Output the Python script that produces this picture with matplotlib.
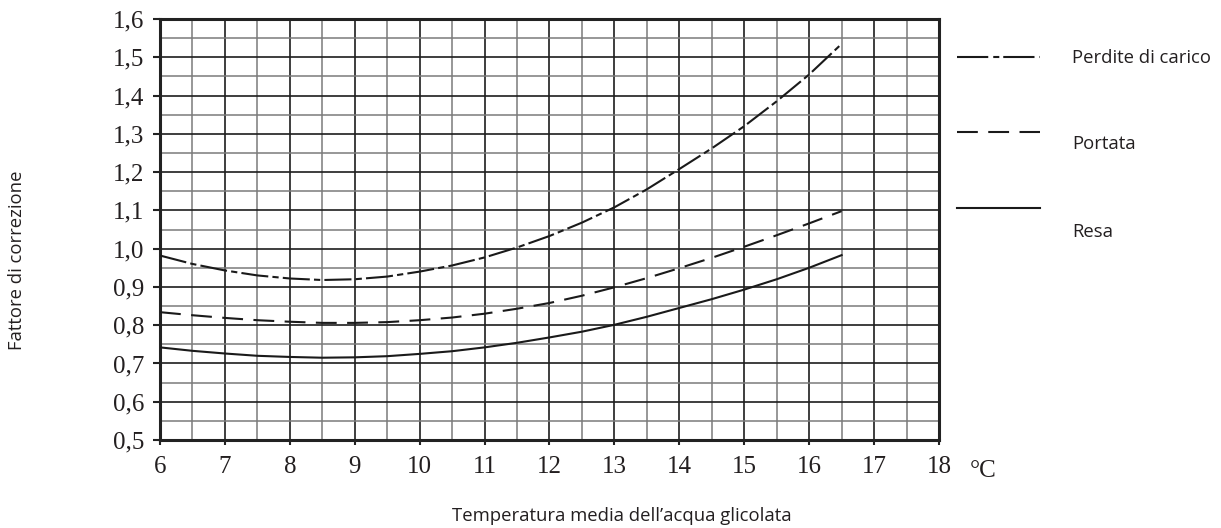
import matplotlib
matplotlib.use("Agg")
import matplotlib.pyplot as plt
from matplotlib.lines import Line2D
import numpy as np

temps = [6, 6.5, 7, 7.5, 8, 8.5, 9, 9.5, 10, 10.5, 11, 11.5, 12, 12.5, 13, 13.5, 14, 14.5, 15, 15.5, 16, 16.5]
perdite = [0.982, 0.960, 0.943, 0.930, 0.922, 0.918, 0.920, 0.927, 0.940, 0.956, 0.977, 1.003, 1.033, 1.068,
           1.108, 1.155, 1.208, 1.262, 1.320, 1.385, 1.455, 1.535]
portata = [0.834, 0.826, 0.819, 0.813, 0.809, 0.806, 0.806, 0.808, 0.813, 0.820, 0.830, 0.843, 0.858, 0.877,
           0.899, 0.923, 0.949, 0.976, 1.005, 1.035, 1.066, 1.098]
resa = [0.742, 0.733, 0.726, 0.720, 0.717, 0.715, 0.716, 0.719, 0.725, 0.732, 0.742, 0.754, 0.768, 0.783,
        0.801, 0.822, 0.845, 0.868, 0.893, 0.920, 0.950, 0.983]

series_names = ["Perdite di carico", "Portata", "Resa"]
x_ticks = [6, 7, 8, 9, 10, 11, 12, 13, 14, 15, 16, 17, 18]
y_ticks = [0.5, 0.6, 0.7, 0.8, 0.9, 1.0, 1.1, 1.2, 1.3, 1.4, 1.5, 1.6]
y_labels = ["0,5", "0,6", "0,7", "0,8", "0,9", "1,0", "1,1", "1,2", "1,3", "1,4", "1,5", "1,6"]
x_label = "Temperatura media dell\u2019acqua glicolata"
y_label = "Fattore di correzione"
unit = "\u00b0C"

W, H = 1221, 528
fig = plt.figure(figsize=(W / 100, H / 100), dpi=100)
ax = fig.add_axes([160 / W, 1 - 440 / H, (939 - 160) / W, (440 - 19) / H])

ax.set_xlim(6, 18)
ax.set_ylim(0.5, 1.6)

txt = "#231f20"
serif = ["Liberation Serif", "DejaVu Serif"]
sans = ["Open Sans", "DejaVu Sans"]
sans_size = 13.3

# grid
ax.set_xticks(np.arange(6, 18.01, 0.5), minor=True)
ax.set_yticks(np.arange(0.5, 1.601, 0.05), minor=True)
ax.set_xticks(x_ticks)
ax.set_yticks(y_ticks)
ax.grid(which="minor", color="#7a7a7a", lw=1.1, zorder=0)
ax.grid(which="major", color="#1e1e1e", lw=1.2, zorder=0)
ax.set_axisbelow(True)

ax.set_xticklabels([str(v) for v in x_ticks], fontfamily=serif, fontsize=18, color=txt)
ax.set_yticklabels(y_labels, fontfamily=serif, fontsize=18, color=txt)
ax.tick_params(axis="x", which="major", direction="out", length=3.6, width=1.5, color="#222222", pad=8)
ax.tick_params(axis="y", which="major", direction="out", length=5, width=1.5, color="#222222", pad=6)
ax.tick_params(which="minor", length=0)
for s in ax.spines.values():
    s.set_linewidth(2.2)
    s.set_color("#222222")

lw = 1.5
col = "#1a1a1a"
dashdot = (13, 2, 3, 2)
dashed = (10, 5)
ax.plot(temps, perdite, color=col, lw=lw, dashes=dashdot, zorder=3)
ax.plot(temps, portata, color=col, lw=lw, dashes=dashed, zorder=3)
ax.plot(temps, resa, color=col, lw=lw, linestyle="-", zorder=3)

fig.text(970 / W, 1 - 477 / H, unit, fontfamily=serif, fontsize=18, color=txt, ha="left", va="baseline")

fig.text(622 / W, 1 - 516 / H, x_label, fontfamily=sans, fontsize=sans_size, ha="center", va="center", color=txt)
fig.text(17 / W, 1 - 260 / H, y_label, fontfamily=sans, fontsize=sans_size, ha="center", va="center",
         rotation=90, color=txt)

# legend
leg_styles = [dict(dashes=(15, 2.4, 2.9, 1.9)), dict(dashes=(10, 5)), dict(linestyle="-")]
line_y = [57, 132, 208]
text_y = [63, 149, 237]
for name, st, ly, ty in zip(series_names, leg_styles, line_y, text_y):
    fig.add_artist(Line2D([957 / W, 1040 / W], [1 - ly / H, 1 - ly / H], transform=fig.transFigure,
                          color=col, lw=lw, **st))
    fig.text(1072 / W, 1 - ty / H, name, fontfamily=sans, fontsize=sans_size, ha="left", va="baseline",
             color=txt)

fig.savefig("out.png", dpi=100)
